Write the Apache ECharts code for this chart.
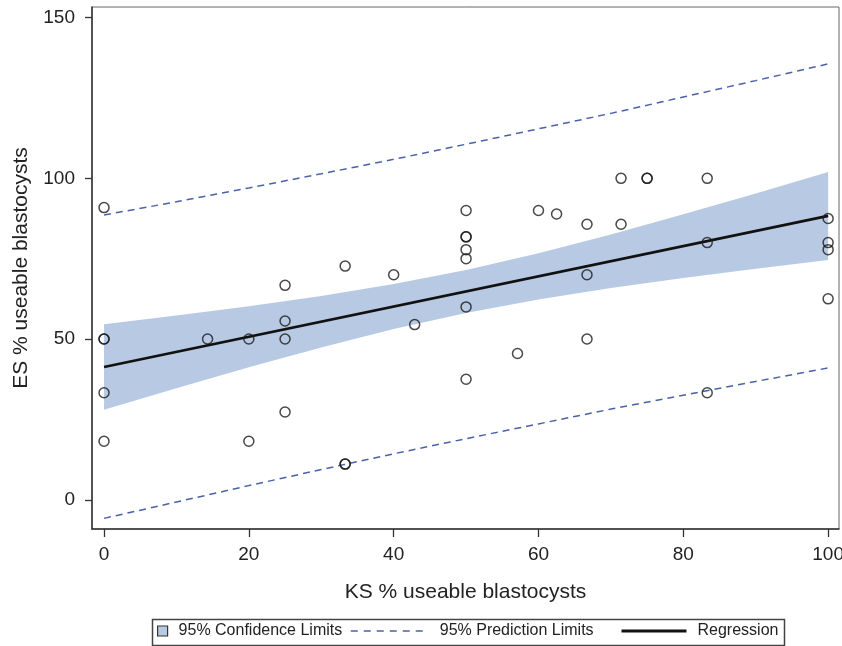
<!DOCTYPE html>
<html>
<head>
<meta charset="utf-8">
<script src="https://cdn.jsdelivr.net/npm/echarts@6/dist/echarts.min.js"></script>
<style>
html,body{margin:0;padding:0;background:#fff;overflow:hidden;}
#chart{width:842px;height:646px;}
</style>
</head>
<body>
<div id="chart"></div>
<script>
// ---- Data ----
const ksPct = [0,0,0,0,0,14.3,20,20,25,25,25,25,33.3,33.3,33.3,40,42.9,50,50,50,50,50,50,50,57.1,60,62.5,66.7,66.7,66.7,71.4,71.4,75,75,83.3,83.3,83.3,100,100,100,100];
const esPct = [90.9,50,50,33.3,18.2,50,50,18.2,66.7,55.6,50,27.3,72.7,11.1,11.1,70,54.5,90,81.8,81.8,77.8,75,60,37.5,45.5,90,88.9,85.7,70,50,100,85.7,100,100,100,80,33.3,87.5,80,77.8,62.5];

const regX = [0, 100];
const regY = [41.3, 88.3];

const bandX   = [0,10,20,30,40,50,60,70,80,90,100];
const ciLower = [28.0,34.7,41.2,47.4,53.1,58.1,62.3,65.9,69.0,71.9,74.6];
const ciUpper = [54.6,57.3,60.2,63.4,67.1,71.5,76.7,82.5,88.8,95.3,102.0];
const piLower = [-5.8,-0.7,4.4,9.4,14.3,19.0,23.6,28.2,32.5,36.8,41.0];
const piUpper = [88.6,92.7,97.0,101.4,105.9,110.6,115.4,120.2,125.3,130.4,135.6];

const xTicks = [0,20,40,60,80,100];
const yTicks = [0,50,100,150];

const xTitle = 'KS % useable blastocysts';
const yTitle = 'ES % useable blastocysts';
const nameCI = '95% Confidence Limits';
const namePI = '95% Prediction Limits';
const nameReg = 'Regression';

// ---- Build ----
const FONT = '"Liberation Sans", Arial, Helvetica, sans-serif';
const bandColor = '#b8cae3';
const dashColor = '#4a62a6';

const zip = (xs, ys) => xs.map((x, i) => [x, ys[i]]);

const chart = echarts.init(document.getElementById('chart'), null, {renderer: 'canvas'});
chart.setOption({
  animation: false,
  backgroundColor: '#fff',
  textStyle: {fontFamily: FONT},
  grid: {left: 92, right: 3, top: 7, bottom: 117, show: true, borderColor: '#666', borderWidth: 1,
         containLabel: false, outerBoundsMode: 'none'},
  xAxis: {
    type: 'value', min: -1.66, max: 101.5,
    name: xTitle, nameLocation: 'middle', nameGap: 53,
    nameTextStyle: {fontSize: 21, color: '#222', fontFamily: FONT},
    axisLine: {show: true, onZero: false, lineStyle: {color: '#333', width: 1.5}},
    axisTick: {show: true, length: 8, customValues: xTicks, lineStyle: {color: '#333', width: 1.3}},
    axisLabel: {customValues: xTicks, fontSize: 19, color: '#222', margin: 16, fontFamily: FONT},
    splitLine: {show: false}
  },
  yAxis: {
    type: 'value', min: -9.1, max: 153.3,
    name: yTitle, nameLocation: 'middle', nameGap: 60, nameRotate: 90,
    nameTextStyle: {fontSize: 21, color: '#222', fontFamily: FONT},
    axisLine: {show: true, onZero: false, lineStyle: {color: '#333', width: 1.5}},
    axisTick: {show: true, length: 7, customValues: yTicks, lineStyle: {color: '#333', width: 1.3}},
    axisLabel: {customValues: yTicks, fontSize: 19, color: '#222', margin: 17, fontFamily: FONT},
    splitLine: {show: false}
  },
  legend: [
    {
      selectedMode: false, left: 157, top: 623, padding: 0,
      itemWidth: 10, itemHeight: 10,
      textStyle: {fontSize: 16, color: '#222', fontFamily: FONT, padding: [0, 0, 0, 6]},
      data: [{name: nameCI, icon: 'rect', itemStyle: {color: bandColor, borderColor: '#333', borderWidth: 1.2}}]
    },
    {
      selectedMode: false, left: 350, top: 623, padding: 0,
      itemWidth: 78, itemHeight: 10,
      textStyle: {fontSize: 16, color: '#222', fontFamily: FONT, padding: [0, 0, 0, 6]},
      itemStyle: {opacity: 0},
      lineStyle: {type: [7, 6], width: 1.5, color: dashColor},
      data: [{name: namePI}]
    },
    {
      selectedMode: false, left: 620, top: 623, padding: 0,
      itemWidth: 65, itemHeight: 10,
      textStyle: {fontSize: 16, color: '#222', fontFamily: FONT, padding: [0, 0, 0, 6]},
      itemStyle: {opacity: 0},
      lineStyle: {width: 3, color: '#111'},
      data: [{name: nameReg}]
    }
  ],
  graphic: [{
    type: 'rect', left: 150, top: 617, z: 100,
    shape: {width: 632, height: 26},
    style: {fill: 'none', stroke: '#444', lineWidth: 1.5}
  }],
  series: [
    {
      name: nameCI, type: 'custom', silent: true, z: 1,
      itemStyle: {color: bandColor},
      data: [0],
      renderItem: function (params, api) {
        const pts = [];
        for (let i = 0; i < bandX.length; i++) pts.push(api.coord([bandX[i], ciUpper[i]]));
        for (let i = bandX.length - 1; i >= 0; i--) pts.push(api.coord([bandX[i], ciLower[i]]));
        return {type: 'polygon', shape: {points: pts, smooth: 0}, style: {fill: bandColor, stroke: 'none'}};
      }
    },
    {
      name: namePI, type: 'line', data: zip(bandX, piUpper), symbol: 'none',
      lineStyle: {color: dashColor, width: 1.5, type: [7, 5]}, itemStyle: {color: dashColor}, z: 2
    },
    {
      name: namePI, type: 'line', data: zip(bandX, piLower), symbol: 'none',
      lineStyle: {color: dashColor, width: 1.5, type: [7, 5]}, itemStyle: {color: dashColor}, z: 2
    },
    {
      name: nameReg, type: 'line', data: zip(regX, regY), symbol: 'none',
      lineStyle: {color: '#111', width: 2.7}, itemStyle: {color: '#111'}, z: 3
    },
    {
      name: 'Observed', type: 'scatter', data: zip(ksPct, esPct),
      symbol: 'circle', symbolSize: 10,
      itemStyle: {color: 'rgba(255,255,255,0)', borderColor: '#1a1a1a', borderWidth: 1.5}, z: 4
    }
  ]
});
</script>
</body>
</html>
